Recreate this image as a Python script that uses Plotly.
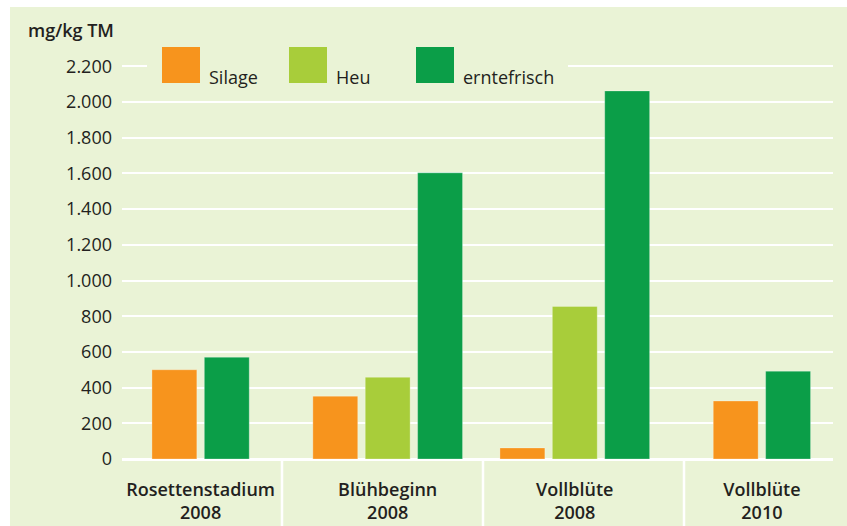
import plotly.graph_objects as go

# ---- data ----
categories = ["Rosettenstadium<br>2008", "Blühbeginn<br>2008", "Vollblüte<br>2008", "Vollblüte<br>2010"]
series_names = ["Silage", "Heu", "erntefrisch"]
silage = [500, 352, 62, 325]
heu = [None, 458, 855, None]
erntefrisch = [570, 1603, 2062, 492]
y_ticks = [0, 200, 400, 600, 800, 1000, 1200, 1400, 1600, 1800, 2000, 2200]
y_title = "mg/kg TM"

colors = ["#f7941d", "#a8cd3a", "#0b9e48"]
bg = "#eaf3d6"
font_family = "Open Sans"

series = [silage, heu, erntefrisch]

# plot area geometry in px
L, R, T, B = 122, 14, 30, 67
W, H = 847, 526
pw = W - L - R
ph = H - T - B

bar_w = 0.24
step = 0.28

fig = go.Figure()
for si, (name, vals) in enumerate(zip(series_names, series)):
    xs, ys, offs = [], [], []
    for ci, cat in enumerate(categories):
        present = [s for s in range(len(series)) if series[s][ci] is not None]
        if vals[ci] is None:
            continue
        n = len(present)
        k = present.index(si)
        total = n * bar_w + (n - 1) * (step - bar_w)
        xs.append(cat)
        ys.append(vals[ci])
        offs.append(-total / 2 + k * step)
    fig.add_trace(go.Bar(
        x=xs, y=ys, name=name, offset=offs, width=bar_w,
        marker=dict(color=colors[si], line=dict(width=0.8, color="rgba(255,255,255,0.35)")),
        showlegend=False,
    ))

def px_x(p):
    return (p - L) / pw

def px_y(p):
    return (H - B - p) / ph

shapes = []
# panel background (white strips at top and left outside)
shapes.append(dict(type="rect", xref="paper", yref="paper", layer="below",
                   x0=px_x(10), x1=px_x(W + 20), y0=px_y(H + 20), y1=px_y(7),
                   fillcolor=bg, line=dict(width=0)))
# legend background box hiding gridline
shapes.append(dict(type="rect", xref="paper", yref="paper", layer="above",
                   x0=px_x(147), x1=px_x(568), y0=px_y(92), y1=px_y(42),
                   fillcolor=bg, line=dict(width=0)))
# separators under the axis
for sx in [282, 483, 684]:
    shapes.append(dict(type="line", xref="paper", yref="paper", layer="above",
                       x0=px_x(sx), x1=px_x(sx), y0=0, y1=px_y(H + 10),
                       line=dict(color="white", width=2.5)))

annotations = [dict(text=y_title, xref="paper", yref="paper", x=px_x(116), y=px_y(30),
                    xanchor="right", yanchor="middle", showarrow=False,
                    font=dict(family=font_family, size=18, color="#231f20", weight=600))]
# custom legend
for i, name in enumerate(series_names):
    x0 = 162 + i * 127
    shapes.append(dict(type="rect", xref="paper", yref="paper", layer="above",
                       x0=px_x(x0), x1=px_x(x0 + 38), y0=px_y(83), y1=px_y(47),
                       fillcolor=colors[i], line=dict(width=0)))
    annotations.append(dict(text=name, xref="paper", yref="paper", x=px_x(x0 + 45), y=px_y(77),
                            xanchor="left", yanchor="middle", showarrow=False,
                            font=dict(family=font_family, size=18, color="#231f20")))

fig.update_layout(
    width=W, height=H,
    margin=dict(l=L, r=R, t=T, b=B, pad=0, autoexpand=False),
    paper_bgcolor="white",
    plot_bgcolor="rgba(0,0,0,0)",
    barmode="overlay",
    separators=",.",
    shapes=shapes,
    annotations=annotations,
    showlegend=False,
    xaxis=dict(type="category", range=[-0.42, 3.38], showgrid=False, zeroline=False,
               showline=False, ticks="", ticklabelstandoff=18, automargin=False,
               tickfont=dict(family=font_family, size=18, color="#231f20", weight=600)),
    yaxis=dict(range=[0, ph / 0.1785], tickvals=y_ticks, tickformat=",d",
               showgrid=True, gridcolor="white", gridwidth=2, automargin=False,
               zeroline=True, zerolinecolor="white", zerolinewidth=2.5,
               showline=False, ticks="", ticklabelstandoff=9,
               tickfont=dict(family=font_family, size=18, color="#231f20")),
)

fig.write_html("out.html", config={"displayModeBar": False},
               post_script="document.body.style.margin='0';document.body.style.overflow='hidden';")
